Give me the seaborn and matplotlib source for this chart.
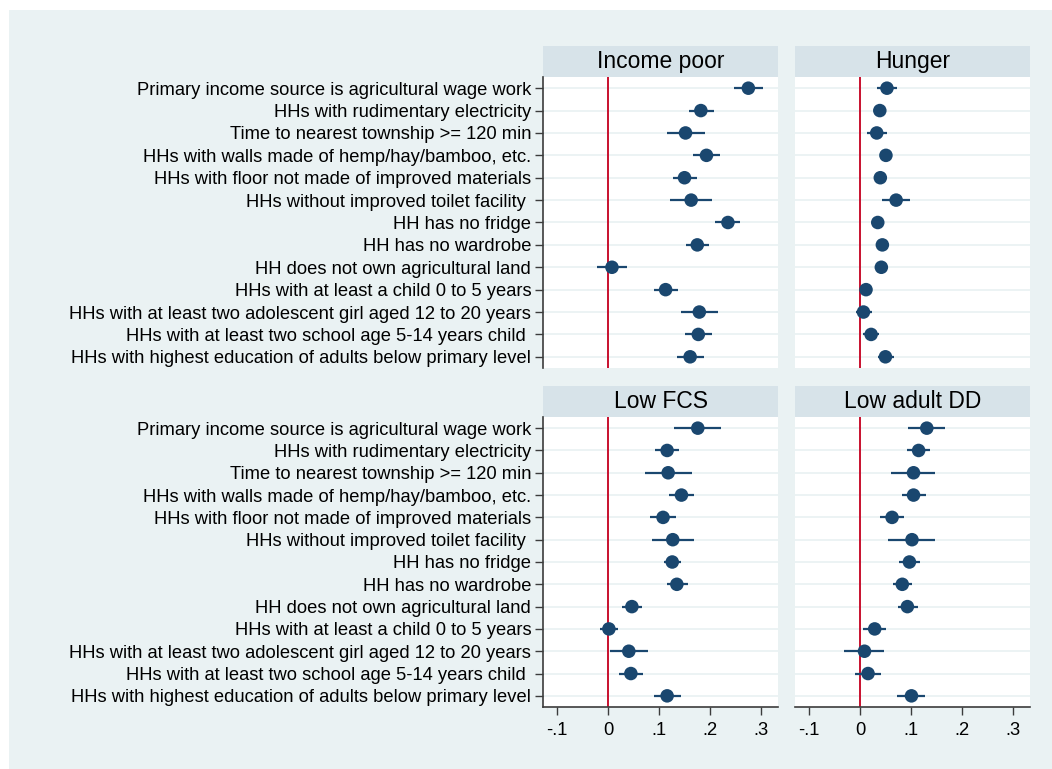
import numpy as np
import pandas as pd
import matplotlib
matplotlib.use("Agg")
import matplotlib.pyplot as plt
import seaborn as sns

# ---------------- data ----------------
categories = [
    "Primary income source is agricultural wage work",
    "HHs with rudimentary electricity",
    "Time to nearest township >= 120 min",
    "HHs with walls made of hemp/hay/bamboo, etc.",
    "HHs with floor not made of improved materials",
    "HHs without improved toilet facility ",
    "HH has no fridge",
    "HH has no wardrobe",
    "HH does not own agricultural land",
    "HHs with at least a child 0 to 5 years",
    "HHs with at least two adolescent girl aged 12 to 20 years",
    "HHs with at least two school age 5-14 years child ",
    "HHs with highest education of adults below primary level",
]
panels = ["Income poor", "Hunger", "Low FCS", "Low adult DD"]

income_coef = [0.275, 0.182, 0.152, 0.193, 0.150, 0.163, 0.235, 0.175, 0.008, 0.113, 0.179, 0.177, 0.161]
income_lo   = [0.246, 0.158, 0.115, 0.167, 0.127, 0.122, 0.209, 0.153, -0.021, 0.091, 0.143, 0.150, 0.135]
income_hi   = [0.303, 0.207, 0.190, 0.219, 0.175, 0.203, 0.259, 0.198, 0.037, 0.138, 0.215, 0.203, 0.188]

hunger_coef = [0.053, 0.039, 0.033, 0.051, 0.040, 0.071, 0.035, 0.044, 0.042, 0.012, 0.007, 0.022, 0.050]
hunger_lo   = [0.033, 0.030, 0.014, 0.040, 0.031, 0.044, 0.026, 0.035, 0.033, 0.004, -0.007, 0.007, 0.035]
hunger_hi   = [0.073, 0.048, 0.054, 0.063, 0.050, 0.098, 0.044, 0.054, 0.051, 0.020, 0.024, 0.038, 0.066]

fcs_coef = [0.176, 0.116, 0.118, 0.144, 0.108, 0.127, 0.126, 0.135, 0.047, 0.002, 0.041, 0.045, 0.116]
fcs_lo   = [0.130, 0.093, 0.072, 0.120, 0.083, 0.086, 0.109, 0.116, 0.027, -0.015, 0.005, 0.022, 0.090]
fcs_hi   = [0.222, 0.139, 0.165, 0.168, 0.134, 0.169, 0.144, 0.157, 0.067, 0.019, 0.078, 0.069, 0.144]

dd_coef = [0.131, 0.115, 0.105, 0.105, 0.063, 0.102, 0.097, 0.083, 0.093, 0.029, 0.009, 0.016, 0.101]
dd_lo   = [0.095, 0.092, 0.060, 0.083, 0.039, 0.056, 0.076, 0.064, 0.074, 0.007, -0.031, -0.009, 0.073]
dd_hi   = [0.167, 0.137, 0.148, 0.129, 0.086, 0.147, 0.118, 0.102, 0.114, 0.051, 0.048, 0.041, 0.127]

xticks = [-0.1, 0, 0.1, 0.2, 0.3]
xticklabels = ["-.1", "0", ".1", ".2", ".3"]

frames = []
for name, c, lo, hi in zip(panels,
                           [income_coef, hunger_coef, fcs_coef, dd_coef],
                           [income_lo, hunger_lo, fcs_lo, dd_lo],
                           [income_hi, hunger_hi, fcs_hi, dd_hi]):
    frames.append(pd.DataFrame({"panel": name, "var": categories,
                                "pos": np.arange(len(categories)),
                                "coef": c, "lo": lo, "hi": hi}))
df = pd.concat(frames, ignore_index=True)

# ---------------- style ----------------
sns.set_theme(style="white")
plt.rcParams["font.family"] = ["Liberation Sans", "DejaVu Sans"]

BG = "#eaf2f3"
HEAD = "#d7e3e9"
NAVY = "#1a476f"
RED = "#c8102e"
AXC = "#3c3c3c"

W, H = 1052, 769
fig = plt.figure(figsize=(W / 100, H / 100), dpi=100, facecolor="white")
fig.patches.append(plt.Rectangle((9 / W, 0), 1 - 9 / W, 1 - 10 / H,
                                 transform=fig.transFigure, facecolor=BG,
                                 edgecolor="none", zorder=-10))

def px_axes(x0, y0, x1, y1):
    return fig.add_axes([x0 / W, 1 - y1 / H, (x1 - x0) / W, (y1 - y0) / H])

cols = [(543, 778), (795, 1030)]
rows = [((46, 76.7), (77, 368)), ((386, 416.7), (417, 707))]

xlim = (-0.127, 0.333)
for i, name in enumerate(panels):
    r, c = divmod(i, 2)
    (hy0, hy1), (py0, py1) = rows[r]
    x0, x1 = cols[c]
    # header band
    hax = px_axes(x0, hy0, x1, hy1)
    hax.set_facecolor(HEAD)
    hax.set_xticks([]); hax.set_yticks([])
    for s in hax.spines.values():
        s.set_visible(False)
    hax.text(0.5, 0.5, name, ha="center", va="center", fontsize=16.5,
             color="black", transform=hax.transAxes)

    ax = px_axes(x0, py0, x1, py1)
    ax.set_facecolor("white")
    sub = df[df["panel"] == name]
    for yv in sub["pos"]:
        ax.axhline(yv, color=BG, lw=1.3, zorder=0)
    ax.axvline(0, color=RED, lw=1.4, zorder=1)
    ax.hlines(sub["pos"], sub["lo"], sub["hi"], color=NAVY, lw=1.6, zorder=2)
    sns.scatterplot(data=sub, x="coef", y="pos", ax=ax, color=NAVY, s=95,
                    edgecolor="none", zorder=3, legend=False)
    ax.set_xlim(*xlim)
    ax.set_ylim(len(categories) - 0.5, -0.5)
    ax.set_xlabel(""); ax.set_ylabel("")
    for s in ax.spines.values():
        s.set_visible(False)

    if c == 0:
        ax.spines["left"].set_visible(True)
        ax.spines["left"].set_color(AXC)
        ax.spines["left"].set_linewidth(1.2)
        ax.set_yticks(sub["pos"])
        ax.set_yticklabels(categories, fontsize=13.2, color="black")
        ax.tick_params(axis="y", left=True, length=6, width=1, color=AXC, pad=2.5)
    else:
        ax.set_yticks([])
    if r == 1:
        ax.spines["bottom"].set_visible(True)
        ax.spines["bottom"].set_color(AXC)
        ax.spines["bottom"].set_linewidth(1.2)
        ax.set_xticks(xticks)
        ax.set_xticklabels(xticklabels, fontsize=13.2, color="black")
        ax.tick_params(axis="x", bottom=True, length=6, width=1, color=AXC, pad=5)
    else:
        ax.set_xticks([])

fig.savefig("out.png", dpi=100, facecolor="white")
